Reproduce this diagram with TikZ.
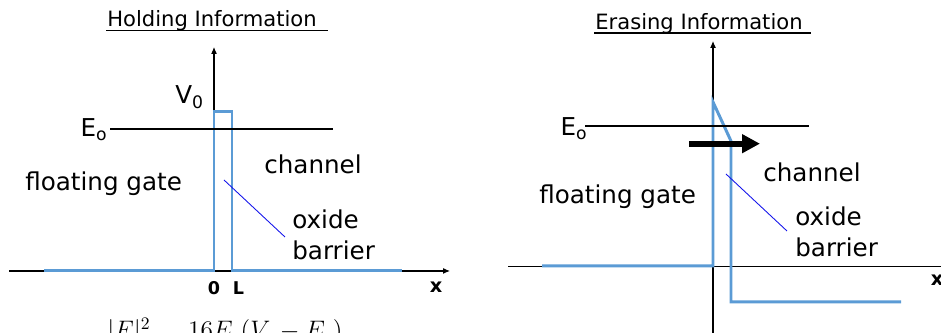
\documentclass[tikz,border=0pt]{standalone}
\usepackage[no-math]{fontspec}
\setmainfont{DejaVu Sans}
\usepackage{amsmath}
\usetikzlibrary{arrows.meta}
\definecolor{barr}{RGB}{91,155,213}
\definecolor{ptr}{RGB}{20,20,235}

\begin{document}
\begin{tikzpicture}[x=0.02cm, y=-0.02cm,
  every node/.style={inner sep=0pt, anchor=base west},
  lbl/.style={font=\fontsize{14}{17}\selectfont},
  ttl/.style={font=\fontsize{12}{14}\selectfont},
  ticklbl/.style={font=\fontsize{10}{12}\selectfont\bfseries, anchor=base},
  axis/.style={line width=0.6pt, -{Latex[length=0.14cm,width=0.12cm]}},
  level/.style={line width=1.1pt},
  pot/.style={barr, line width=1.7pt},
  lead/.style={ptr, line width=0.5pt}]
\useasboundingbox (0,0) rectangle (941,333);
\clip (0,0) rectangle (941,333);
% ---- panel 1: holding information
\node[ttl] (holdT) at (107,27) {Holding Information};
\draw[line width=0.8pt] (106,30.5) -- (328,30.5);
\draw[axis] (9,271) -- (450,271);
\draw[axis] (214,271) -- (214,47);
\draw[pot] (44,271) -- (214,271) -- (214,112) -- (232,112) -- (232,271) -- (402,271);
\draw[level] (110,129) -- (333,129);
\node[lbl] (V1) at (175,104) {V\textsubscript{0}};
\node[lbl, anchor=base east] (E1) at (108,137) {E\textsubscript{o}};
\node[lbl] (fg1) at (25,191) {floating gate};
\node[lbl] (ch1) at (264,174) {channel};
\node[lbl] (ox1) at (292,229) {oxide};
\node[lbl] (ba1) at (292,260) {barrier};
\node[ticklbl] (zero1) at (214,295) {0};
\node[ticklbl] (L1) at (238.5,295) {L};
\node[ticklbl, font=\fontsize{11}{12}\selectfont\bfseries] (x1) at (436,293) {x};
\coordinate (in1) at (224,180);
\coordinate (tip1) at (285,237);
\draw[lead] (in1) -- (tip1);
% transmission formula, cut off by the frame
\node[font=\fontsize{14.5}{17}\selectfont] (tunl) at (105,356)
  {$\displaystyle\frac{|F|^2}{|A|^2}=\frac{16E_o(V_o-E_o)}{V_o^2}$};
% ---- panel 2: erasing information
\node[ttl] (eraseT) at (595,29.5) {Erasing Information};
\draw[line width=0.8pt] (594,33) -- (811,33);
\draw[line width=0.6pt] (508,266.5) -- (945,266.5);
\draw[axis] (713,345) -- (713,41);
\draw[pot] (542,266) -- (713,266) -- (713,102) -- (731,141) -- (731,302) -- (901,302);
\draw[level] (585,125.7) -- (809,125.7);
\draw[line width=3.4pt, -{Triangle[length=0.36cm,width=0.36cm]}] (689,143.7) -- (760,143.7);
\node[lbl, anchor=base east] (E2) at (588,136) {E\textsubscript{o}};
\node[lbl] (fg2) at (539,204) {floating gate};
\node[lbl] (ch2) at (763,181.5) {channel};
\node[lbl] (ox2) at (795,226) {oxide};
\node[lbl] (ba2) at (795,257) {barrier};
\node[ticklbl, font=\fontsize{11}{12}\selectfont\bfseries] (x2) at (937,286) {x};
\coordinate (in2) at (726,174);
\coordinate (tip2) at (787,231);
\draw[lead] (in2) -- (tip2);
\end{tikzpicture}
\end{document}
